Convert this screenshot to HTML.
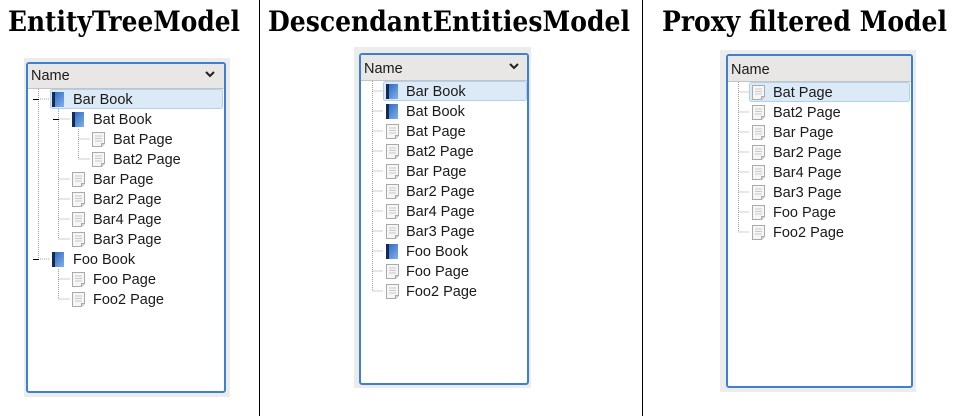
<!DOCTYPE html>
<html><head><meta charset="utf-8"><style>
html,body{margin:0;padding:0;background:#fff;width:958px;height:416px;overflow:hidden}
svg{display:block}
.t{font-family:"DejaVu Serif","Liberation Serif",serif;font-weight:bold;font-size:28px;fill:#000}
.l{font-family:"Liberation Sans","DejaVu Sans",sans-serif;font-size:14.5px;fill:#1a1a1a}
.d{stroke:#a0a0a0;stroke-width:1;stroke-dasharray:1 1;fill:none}
</style></head><body>
<svg width="958" height="416" viewBox="0 0 958 416" xmlns="http://www.w3.org/2000/svg">
<defs>
<linearGradient id="bg" x1="0" y1="0" x2="1" y2="1">
<stop offset="0" stop-color="#2a63b8"/><stop offset="1" stop-color="#7fb0ee"/></linearGradient>
<g id="book"><rect x="0" y="0" width="12" height="15" fill="url(#bg)"/><rect x="0" y="0" width="3" height="15" fill="#142a52"/></g>
<g id="page"><path d="M0.5 0.5 H12.5 V11.5 L9.5 14.5 H0.5 Z" fill="#f6f6f6" stroke="#aaa"/><path d="M9.5 14.5 V11.5 H12.5" fill="#ddd" stroke="#aaa"/><path d="M3 4H10M3 6.5H10M3 9H10" stroke="#c8c8c8"/></g>
</defs>
<line x1="259.5" y1="0" x2="259.5" y2="416" stroke="#000"/>
<line x1="642.5" y1="0" x2="642.5" y2="416" stroke="#000"/>
<text class="t" x="8" y="31" textLength="232" lengthAdjust="spacingAndGlyphs">EntityTreeModel</text>
<text class="t" x="268" y="31" textLength="362" lengthAdjust="spacingAndGlyphs">DescendantEntitiesModel</text>
<text class="t" x="662" y="31" textLength="285" lengthAdjust="spacingAndGlyphs">Proxy filtered Model</text>

<!-- Panel 1 -->
<rect x="24" y="58" width="206" height="339" fill="#ececec"/>
<rect x="27" y="63" width="198" height="329" rx="2" fill="#fff" stroke="#3f7fd0" stroke-width="2"/>
<rect x="28" y="64" width="196" height="24" fill="#e8e7e5"/>
<line x1="28" y1="88.5" x2="224" y2="88.5" stroke="#c4c4c4"/>
<text class="l" x="31" y="80">Name</text>
<path d="M206 72 l4 4 l4 -4" stroke="#222" stroke-width="2" fill="none"/>
<rect x="50.5" y="89.5" width="172" height="19" rx="2" fill="#dce9f7" stroke="#b4d0ef"/>
<path class="d" d="M38.5 89 V259 M58.5 109 V239 M78.5 129 V159 M58.5 269 V299 M58.5 119H70 M78.5 139H90 M78.5 159H90 M58.5 179H70 M58.5 199H70 M58.5 219H70 M58.5 239H70 M58.5 279H70 M58.5 299H70 M40 99H50 M40 259H50"/>
<path d="M33 99.5H39 M53 119.5H59 M33 259.5H39" stroke="#000"/>
<use href="#book" x="52" y="92"/><text class="l" x="73" y="104">Bar Book</text>
<use href="#book" x="72" y="112"/><text class="l" x="93" y="124">Bat Book</text>
<use href="#page" x="92" y="132"/><text class="l" x="113" y="144">Bat Page</text>
<use href="#page" x="92" y="152"/><text class="l" x="113" y="164">Bat2 Page</text>
<use href="#page" x="72" y="172"/><text class="l" x="93" y="184">Bar Page</text>
<use href="#page" x="72" y="192"/><text class="l" x="93" y="204">Bar2 Page</text>
<use href="#page" x="72" y="212"/><text class="l" x="93" y="224">Bar4 Page</text>
<use href="#page" x="72" y="232"/><text class="l" x="93" y="244">Bar3 Page</text>
<use href="#book" x="52" y="252"/><text class="l" x="73" y="264">Foo Book</text>
<use href="#page" x="72" y="272"/><text class="l" x="93" y="284">Foo Page</text>
<use href="#page" x="72" y="292"/><text class="l" x="93" y="304">Foo2 Page</text>

<!-- Panel 2 -->
<rect x="354" y="47" width="177" height="341" fill="#ececec"/>
<rect x="360" y="54" width="168" height="330" rx="2" fill="#fff" stroke="#3f7fd0" stroke-width="2"/>
<rect x="361" y="55" width="166" height="25" fill="#e8e7e5"/>
<line x1="361" y1="80.5" x2="527" y2="80.5" stroke="#c4c4c4"/>
<text class="l" x="364" y="73">Name</text>
<path d="M510 64 l4 4 l4 -4" stroke="#222" stroke-width="2" fill="none"/>
<rect x="383.5" y="81.5" width="143" height="19" rx="2" fill="#dce9f7" stroke="#b4d0ef"/>
<path class="d" d="M372.5 81 V291 M372.5 91H383 M372.5 111H383 M372.5 131H383 M372.5 151H383 M372.5 171H383 M372.5 191H383 M372.5 211H383 M372.5 231H383 M372.5 251H383 M372.5 271H383 M372.5 291H383"/>
<use href="#book" x="386" y="84"/><text class="l" x="406" y="96">Bar Book</text>
<use href="#book" x="386" y="104"/><text class="l" x="406" y="116">Bat Book</text>
<use href="#page" x="386" y="124"/><text class="l" x="406" y="136">Bat Page</text>
<use href="#page" x="386" y="144"/><text class="l" x="406" y="156">Bat2 Page</text>
<use href="#page" x="386" y="164"/><text class="l" x="406" y="176">Bar Page</text>
<use href="#page" x="386" y="184"/><text class="l" x="406" y="196">Bar2 Page</text>
<use href="#page" x="386" y="204"/><text class="l" x="406" y="216">Bar4 Page</text>
<use href="#page" x="386" y="224"/><text class="l" x="406" y="236">Bar3 Page</text>
<use href="#book" x="386" y="244"/><text class="l" x="406" y="256">Foo Book</text>
<use href="#page" x="386" y="264"/><text class="l" x="406" y="276">Foo Page</text>
<use href="#page" x="386" y="284"/><text class="l" x="406" y="296">Foo2 Page</text>

<!-- Panel 3 -->
<rect x="720" y="50" width="196" height="342" fill="#ececec"/>
<rect x="727" y="55" width="185" height="332" rx="2" fill="#fff" stroke="#3f7fd0" stroke-width="2"/>
<rect x="728" y="56" width="183" height="25" fill="#e8e7e5"/>
<line x1="728" y1="81.5" x2="911" y2="81.5" stroke="#c4c4c4"/>
<text class="l" x="731" y="74">Name</text>
<rect x="749.5" y="82.5" width="160" height="19" rx="2" fill="#dce9f7" stroke="#b4d0ef"/>
<path class="d" d="M738.5 82 V232 M738.5 92H749 M738.5 112H749 M738.5 132H749 M738.5 152H749 M738.5 172H749 M738.5 192H749 M738.5 212H749 M738.5 232H749"/>
<use href="#page" x="752" y="85"/><text class="l" x="773" y="97">Bat Page</text>
<use href="#page" x="752" y="105"/><text class="l" x="773" y="117">Bat2 Page</text>
<use href="#page" x="752" y="125"/><text class="l" x="773" y="137">Bar Page</text>
<use href="#page" x="752" y="145"/><text class="l" x="773" y="157">Bar2 Page</text>
<use href="#page" x="752" y="165"/><text class="l" x="773" y="177">Bar4 Page</text>
<use href="#page" x="752" y="185"/><text class="l" x="773" y="197">Bar3 Page</text>
<use href="#page" x="752" y="205"/><text class="l" x="773" y="217">Foo Page</text>
<use href="#page" x="752" y="225"/><text class="l" x="773" y="237">Foo2 Page</text>
</svg>
</body></html>
